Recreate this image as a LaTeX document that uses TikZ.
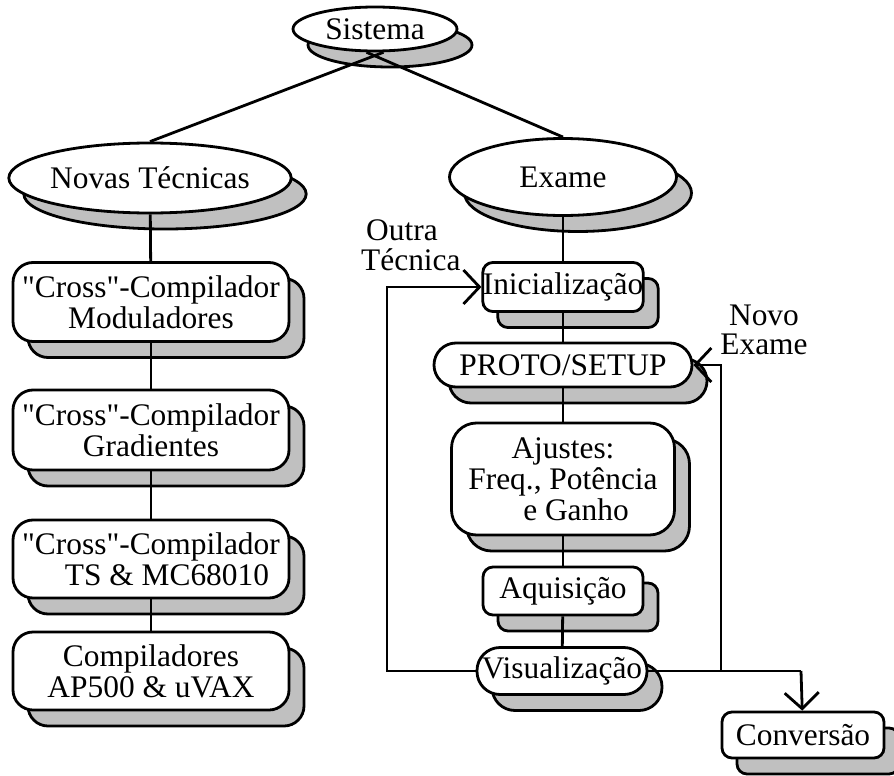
\documentclass[tikz,border=0pt]{standalone}
\usepackage{fontspec}
\setmainfont{Liberation Serif}
\usetikzlibrary{shapes.geometric,shadows,arrows.meta}
\definecolor{shade}{RGB}{192,192,192}
\newcommand{\qq}{\textquotedbl}
\begin{document}
\begin{tikzpicture}[x=1pt,y=-1pt,
  every node/.style={font=\fontsize{31.4}{31}\selectfont, inner sep=0pt, align=center},
  sh/.style={general shadow={shadow xshift=15pt, shadow yshift=-16pt, fill=shade, draw=black, line width=2.8pt}},
  oval/.style={ellipse, draw, line width=2.8pt, fill=white, sh},
  box/.style={rectangle, rounded corners=#1, draw, line width=2.8pt, fill=white, sh},
  link/.style={line width=2.8pt},
  arr/.style={line width=2.8pt, -{Straight Barb[length=16pt,width=34pt]}},
  lbl/.style={font=\fontsize{31.4}{26}\selectfont}
]
\useasboundingbox (0,0) rectangle (894,776);
\fill[white] (0,0) rectangle (894,776);

% root and the two branches
\node[oval, minimum width=164pt, minimum height=44pt] (sis) at (375,29) {Sistema};
\node[oval, minimum width=227pt, minimum height=70pt] (nov) at (150,178) {Novas Técnicas};
\node[oval, minimum width=227pt, minimum height=77pt] (exa) at (563,177) {Exame};

% left column
\node[box=20pt, minimum width=276pt, minimum height=79pt] (cm) at (151,302) {\qq Cross\qq-Compilador\\Moduladores};
\node[box=20pt, minimum width=276pt, minimum height=80pt] (cg) at (151,430) {\qq Cross\qq-Compilador\\Gradientes};
\node[box=20pt, minimum width=276pt, minimum height=78pt] (cts) at (151,559) {\qq Cross\qq-Compilador\\\hspace*{32pt}TS \& MC68010};
\node[box=20pt, minimum width=276pt, minimum height=78pt] (cap) at (151,671) {Compiladores\\AP500 \& uVAX};

% right column
\node[box=10pt, minimum width=160pt, minimum height=49pt] (ini) at (563,287) {Inicialização};
\node[box=22pt, minimum width=258pt, minimum height=44pt] (pro) at (563,365) {PROTO/SETUP};
\node[box=25pt, minimum width=223pt, minimum height=112pt] (aju) at (563,479) {Ajustes:\\Freq., Potência\\\hspace*{26pt}e Ganho};
\node[box=10pt, minimum width=160pt, minimum height=48pt] (aqu) at (563,591) {Aquisição};
\node[box=23pt, minimum width=170pt, minimum height=47pt] (vis) at (562,671) {Visualização};
\node[box=10pt, minimum width=162pt, minimum height=46pt] (con) at (803,735) {Conversão};

% loop corners
\coordinate (lb) at (387,671);
\coordinate (lt) at (387,287);
\coordinate (rc) at (801,671);
\coordinate (jn) at (721,671);
\coordinate (jt) at (721,365);

% tree links (the root links meet the far side of the root's rim)
\draw[link] (nov.north) -- (sis.-70);
\draw[link] (exa.north) -- (sis.-110);
\draw[link] (nov) -- (cm);
\draw[link] (cm) -- (cg);
\draw[link] (cg) -- (cts);
\draw[link] (cts) -- (cap);
\draw[link] (exa) -- (ini);
\draw[link] (ini) -- (pro);
\draw[link] (pro) -- (aju);
\draw[link] (aju) -- (aqu);
\draw[link] (aqu) -- (vis);

% feedback and output paths
\draw[arr] (vis) -- (lb) -- (lt) -- (ini);
\draw[link] (vis) -- (rc);
\draw[arr] (rc) -- (con);
\draw[arr] (jn) -- (jt) -- (pro);

% path labels
\node[lbl, anchor=base west] (outra) at (361,270) {\makebox[0pt][l]{\raisebox{30pt}{\hspace{5pt}Outra}}Técnica};
\node[lbl, anchor=base] (novo) at (764,354) {\makebox[0pt][c]{\raisebox{29pt}{Novo}}\makebox[0pt][c]{Exame}};
\end{tikzpicture}
\end{document}
